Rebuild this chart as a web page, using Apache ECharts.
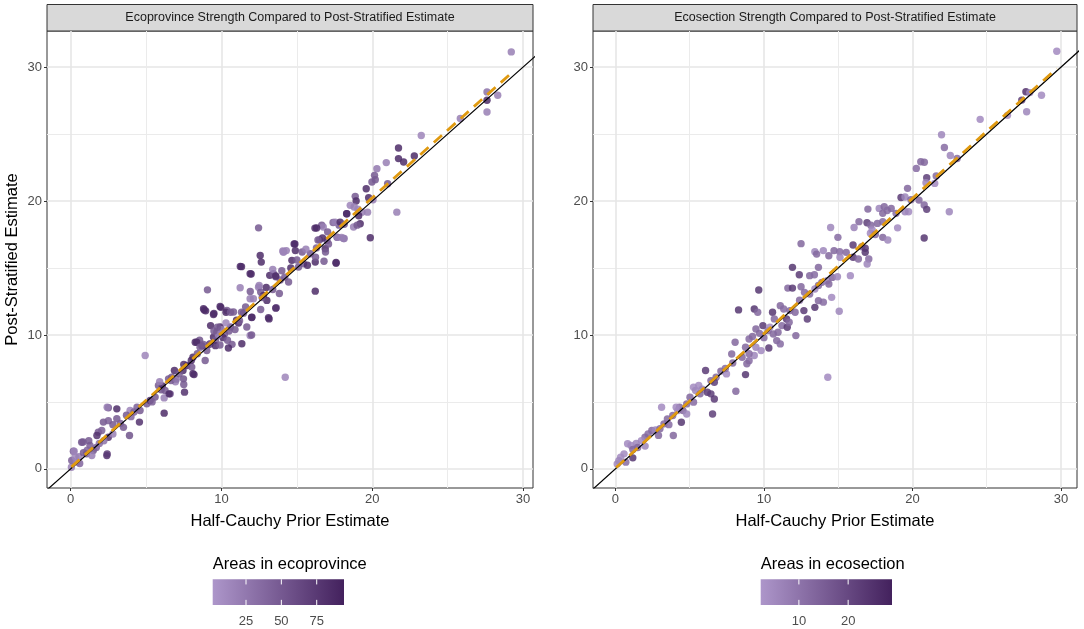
<!DOCTYPE html>
<html>
<head>
<meta charset="utf-8">
<script src="https://cdn.jsdelivr.net/npm/echarts@6/dist/echarts.min.js"></script>
<style>
  html, body { margin: 0; padding: 0; background: #fff; }
  #chart { width: 1084px; height: 629px; }
</style>
</head>
<body>
<div id="chart"></div>
<script>
// [half-cauchy prior estimate, post-stratified estimate, areas]
var ecoprovincePoints = [
  [0.05,0.12,20],[0.07,0.62,45],[0.18,1.32,50],[0.4,0.5,18],[0.3,0.9,15],[0.55,0.9,20],[0.73,1.99,55],[0.85,1.2,50],
  [1.28,1.74,45],[1.1,1.4,40],[1.5,1.37,55],[1.7,1.6,45],[2.4,0.99,80],[1.83,2.74,50],[2.06,2.86,45],[2.5,2.36,80],
  [2.2,2.1,30],[2.8,2.6,20],[3.9,2.49,55],[2.17,3.49,50],[2.5,3.6,45],[2.8,3.3,50],[3.06,3.74,50],[3.3,3.4,45],
  [3.5,3.1,50],[2.5,4.56,55],[3.06,4.48,85],[3.94,4.36,15],[4.2,4.25,45],[4.6,4.36,50],[4.56,3.49,80],[4.0,3.9,40],
  [5.05,4.86,50],[5.27,5.1,80],[5.6,5.36,50],[5.4,5.0,45],[4.94,8.47,15],[5.82,6.23,50],[6.0,5.9,55],[6.6,5.6,50],
  [6.2,5.3,20],[6.2,4.16,85],[6.49,6.72,50],[6.7,6.85,50],[6.95,6.5,20],[7.48,6.72,55],[7.5,6.3,50],[7.55,5.73,80],
  [7.7,7.72,85],[7.5,7.8,80],[8.03,7.6,50],[8.11,7.1,85],[8.11,8.34,85],[8.92,8.09,50],[9.03,8.84,50],[8.26,9.46,85],
  [8.7,9.2,85],[8.55,9.6,55],[9.47,9.84,85],[9.2,9.3,80],[7.45,7.34,85],[6.88,7.34,85],[8.18,7.04,85],[6.65,6.6,50],
  [7.0,6.7,30],[6.08,6.2,85],[6.26,5.85,50],[6.53,5.6,85],[14.23,6.84,15],[2.42,4.6,20],[1.74,2.49,80],[2.42,1.12,75],
  [0.82,2.0,50],[0.23,1.32,15],[1.05,1.12,50],[0.6,0.4,40],[1.4,1.0,20],[1.9,1.9,35],
  [1.2,2.1,50],[3.7,4.0,50],[4.4,4.6,45],[5.9,6.5,20],[7.2,7.1,50],[8.4,8.6,50],[8.0,8.1,85],[9.6,9.6,50],
  [16.2,17.98,85],[16.65,18.2,50],[17.4,18.4,45],[17.8,18.2,50],[18.3,19.05,85],[17.66,17.3,50],[18.1,17.2,45],
  [17.0,17.06,50],[16.5,17.1,45],[14.82,16.8,85],[14.9,16.3,85],[14.12,16.2,15],[14.3,16.3,20],[15.35,16.2,50],
  [15.9,16.07,50],[16.3,16.5,45],[16.88,16.44,85],[17.1,16.8,50],[12.57,15.94,85],[12.64,15.44,85],[14.67,15.57,85],
  [15.44,15.32,50],[15.7,15.2,85],[16.22,15.44,85],[17.6,15.42,85],[15.11,15.07,50],[11.25,15.12,85],[13.2,14.45,85],
  [13.6,14.35,50],[13.45,14.57,50],[14.2,14.32,50],[14.45,13.95,50],[13.9,14.1,45],[11.9,14.57,85],[16.22,13.27,85],
  [9.07,13.37,50],[11.24,13.52,20],[11.91,13.25,50],[12.46,13.57,20],[12.6,13.2,50],[12.79,12.95,85],[12.12,12.7,20],
  [13.01,12.58,85],[13.63,12.03,50],[8.81,11.96,85],[8.95,11.8,85],[9.91,12.13,85],[10.36,11.83,50],[10.8,11.71,50],
  [11.46,11.63,50],[9.47,11.53,85],[12.02,11.33,85],[13.12,11.28,85],[11.68,10.59,50],[11.13,10.89,85],[11.0,11.1,85],
  [9.91,10.59,85],[10.2,10.08,50],[10.5,10.3,50],[10.6,10.6,50],[9.69,10.2,50],[10.1,9.8,85],[10.4,9.6,50],
  [11.9,9.96,20],[8.36,9.46,85],[8.58,9.09,50],[8.8,9.3,50],[9.25,9.34,50],[9.6,9.2,85],[9.9,9.25,50],[10.7,9.3,50],
  [11.35,9.34,85],[10.46,9.03,85],[12.0,10.0,50],[10.0,10.4,20],[10.3,10.9,15],[9.8,10.0,20],
  [13.4,14.9,20],[13.6,14.4,85],[12.5,13.7,20],[12.97,13.55,85],[13.4,13.4,50],[13.84,13.1,50],[12.7,12.8,50],
  [11.9,12.7,20],[9.96,12.06,85],[8.86,11.87,85],[9.5,11.6,85],[10.3,11.7,85],[10.6,11.7,50],[11.33,11.7,50],
  [12.0,11.3,85],[13.16,11.2,85],[13.6,12.0,85],[12.6,11.9,50],[11.2,11.07,50],[9.28,10.7,85],[9.5,10.3,50],[9.73,10.57,50],
  [14.0,14.8,50],[15.0,15.6,50],[15.6,16.4,20],[14.6,15.0,85],[10.9,10.4,50],[11.6,12.1,50],
  [29.22,31.14,20],[27.61,28.15,30],[27.61,27.53,85],[28.32,27.9,20],[27.61,26.65,20],[25.84,26.16,20],[23.25,24.9,15],
  [21.74,23.96,85],[21.74,23.17,85],[22.08,22.92,85],[22.79,23.37,85],[20.93,22.87,20],[20.31,22.42,25],[20.15,21.92,50],
  [20.2,21.6,50],[19.98,21.42,50],[21.02,21.3,50],[19.6,20.92,85],[18.87,20.35,50],[18.93,20.0,85],[19.76,20.25,85],
  [20.05,20.1,20],[21.63,19.17,20],[18.54,19.68,15],[18.8,19.56,20],[19.05,19.4,15],[19.32,19.17,20],[18.31,19.05,85],
  [19.69,19.17,20],[19.1,18.9,85],[19.2,18.31,85],[18.76,18.06,20],[19.0,18.2,50],[17.54,18.43,20],[17.87,18.43,85],
  [18.14,18.26,50],[16.75,18.06,20],[16.31,17.99,85],[19.87,17.26,85],[17.04,17.7,50],[17.7,17.29,20],[17.96,17.29,20],
  [18.14,17.2,20],[16.7,17.24,85],[16.4,17.1,50],[14.87,16.8,85],[14.07,16.27,20],[12.46,18.0,50],
  [16.24,15.8,50],[16.8,15.5,50],[16.9,16.2,50],[17.6,15.35,85],[11.33,15.1,85],[11.97,14.55,85],[14.1,16.2,15]
];

var ecosectionPoints = [
  [29.72,31.19,5],[27.64,28.16,25],[27.36,27.54,22],[27.9,28.1,6],[28.69,27.9,5],[27.69,26.67,6],[26.4,26.4,5],
  [24.56,26.1,5],[21.96,24.95,6],[22.15,24.0,12],[22.55,23.4,6],[23.01,23.18,12],[20.56,22.94,13],[20.8,22.9,13],
  [20.26,22.44,12],[20.96,21.74,22],[21.6,21.87,12],[20.91,21.37,6],[21.5,21.32,5],[19.67,20.95,13],[19.23,20.27,23],
  [19.5,20.3,6],[19.9,20.1,13],[20.44,20.07,13],[20.79,19.7,13],[20.96,19.38,22],[22.48,19.2,6],[19.74,19.2,5],
  [19.5,19.2,6],[17.0,19.4,13],[17.76,19.45,6],[18.1,19.58,13],[18.3,19.3,12],[18.57,19.45,13],[18.0,19.08,13],
  [18.9,19.08,12],[16.4,18.46,13],[16.94,18.38,22],[17.2,18.2,13],[17.64,18.33,13],[18.0,18.46,12],[19.0,18.0,5],
  [14.49,18.03,6],[16.07,18.03,7],[17.29,17.84,5],[17.17,17.6,5],[17.5,17.5,12],[18.0,17.29,13],[18.34,17.09,6],
  [14.98,17.29,12],[20.79,17.24,24],[16.0,16.72,23],[16.59,16.59,13],[16.82,16.47,23],[12.5,16.82,13],[13.43,16.22,6],
  [14.0,16.3,6],[14.72,16.3,13],[15.1,16.22,12],
  [13.55,16.04,13],[14.37,15.92,13],[15.12,15.8,6],[15.54,16.17,13],[16.0,15.8,23],[16.36,15.67,13],[16.82,16.17,24],
  [17.06,15.67,12],[16.95,15.3,6],[11.92,15.05,24],[12.38,14.5,23],[13.08,14.43,13],[13.4,14.5,12],[13.67,15.05,13],
  [13.9,13.93,13],[14.25,14.05,6],[14.6,14.3,13],[14.95,14.35,6],[15.82,14.43,5],[11.61,13.5,13],[11.92,13.5,23],
  [12.5,13.6,13],[12.73,13.18,12],[13.08,13.05,13],[13.43,13.43,6],[13.67,13.7,13],[14.37,13.8,13],[14.56,12.81,5],
  [9.65,13.36,24],[11.1,12.19,13],[11.33,11.94,12],[10.58,11.69,24],[11.75,11.82,13],[12.1,11.69,13],[13.43,12.06,24],
  [12.69,11.82,23],[12.92,11.19,22],[13.67,12.56,13],[14.0,12.45,12],[15.07,11.77,6],[8.29,11.87,24],[9.35,11.94,24],
  [9.58,11.69,13],[11.52,11.19,23],[9.93,10.7,23],[9.46,10.45,13],[9.7,10.12,13],[10.28,10.32,12],[10.4,10.57,5],
  [10.63,10.07,13],[10.95,10.2,13],[11.21,10.7,12],[11.57,10.57,23],[11.7,10.95,13],[12.15,9.95,13],[10.86,9.58,13],
  [11.1,9.33,12],[10.33,9.03,23],[8.06,9.45,13],[9.0,9.7,12],[9.23,9.88,13],[8.76,9.08,13],[9.46,9.08,6],[9.81,8.83,5],
  [9.35,8.46,6],[9.0,8.6,12],[8.53,8.33,13],[7.83,8.58,13],[9.0,8.08,12],[8.85,7.85,13],[8.76,7.04,24],[6.07,7.34,23],
  [7.1,7.3,13],[6.78,6.84,13],[7.48,7.09,5],[8.11,5.8,13],[6.43,6.59,13],[6.66,6.47,22],[5.26,6.1,5],[5.4,5.85,6],
  [5.61,6.22,5],[5.85,5.95,6],[6.19,5.72,23],[6.43,5.6,22],[6.66,5.22,23],[6.54,4.1,22],[5.02,5.35,13],[5.26,4.98,12],
  [4.8,4.85,13],[4.32,4.6,13],[3.86,3.98,13],[4.2,4.35,6],[4.09,4.6,5],[4.55,4.35,13],[4.8,4.1,6],[3.11,4.6,5],
  [4.44,3.48,24],[3.5,3.73,13],[3.27,3.36,13],[3.9,2.49,13],[2.45,2.86,13],[2.2,2.6,12],[1.99,2.36,13],[1.75,2.11,5],
  [1.4,1.9,6],[1.05,1.74,5],[0.82,1.87,5],[1.17,0.82,24],[0.58,1.12,5],[0.35,0.87,5],[0.12,0.37,5],[0.23,0.6,6],
  [0.7,0.5,12],[1.17,1.45,13],[1.5,1.6,13],[2.7,2.9,6],[3.0,3.0,13],[14.3,6.84,5],
  [2.0,1.7,6],[2.9,2.5,13],[3.6,3.3,12],[5.7,5.6,13],[7.4,7.5,12],[7.9,7.9,13],[10.0,9.8,12],[10.7,11.2,13],[12.4,12.6,13]
];

var majorTicks = [0, 10, 20, 30];
var minorTicks = [5, 15, 25];
var identityLine = [[-5, -5], [40, 40]];
var ecoprovinceFit = [[0.05, 0.15], [10, 10.15], [20, 20.25], [29.22, 29.55]];
var ecosectionFit = [[0.05, 0.1], [10, 10.1], [20, 20.2], [29.72, 29.9]];
var ecoprovinceRange = [1.45, 94.3];
var ecosectionRange = [2.25, 28.9];
var ecoprovinceLegendTicks = [25, 50, 75];
var ecosectionLegendTicks = [10, 20];

var FONT = '"Liberation Sans", Arial, sans-serif';
var LOW = '#ad96ca', HIGH = '#43215d';

var panels = [
  { left: 47, width: 486, xmin: -1.57, xmax: 30.66, title: 'Ecoprovince Strength Compared to Post-Stratified Estimate' },
  { left: 593, width: 484, xmin: -1.51, xmax: 31.08, title: 'Ecosection Strength Compared to Post-Stratified Estimate' }
];
var TOP = 31, HEIGHT = 457, YMIN = -1.43, YMAX = 32.7;

function majorAxis(dim, gi, min, max) {
  return {
    type: 'value', gridIndex: gi, min: min, max: max,
    position: dim === 'x' ? 'bottom' : 'left',
    axisLine: { show: false, onZero: false },
    axisTick: { show: true, length: 3, customValues: majorTicks, lineStyle: { color: '#333', width: 1 } },
    axisLabel: { customValues: majorTicks, color: '#4d4d4d', fontSize: 13, fontFamily: FONT, margin: 5 },
    splitLine: { show: true, lineStyle: { color: '#e6e6e6', width: 1.6 } }
  };
}
function minorAxis(dim, gi, min, max) {
  return {
    type: 'value', gridIndex: gi, min: min, max: max,
    position: dim === 'x' ? 'top' : 'right',
    axisLine: { show: false, onZero: false },
    axisTick: { show: false, customValues: minorTicks },
    axisLabel: { show: false, customValues: minorTicks },
    splitLine: { show: true, lineStyle: { color: '#ebebeb', width: 1 } }
  };
}

var grids = [], xAxes = [], yAxes = [], graphics = [];
panels.forEach(function (p, i) {
  grids.push({ left: p.left, top: TOP, width: p.width, height: HEIGHT, show: true,
    borderColor: '#333', borderWidth: 1, backgroundColor: 'transparent', containLabel: false });
  xAxes.push(majorAxis('x', i, p.xmin, p.xmax), minorAxis('x', i, p.xmin, p.xmax));
  yAxes.push(majorAxis('y', i, YMIN, YMAX), minorAxis('y', i, YMIN, YMAX));
  graphics.push({ type: 'rect', shape: { x: p.left, y: 4.5, width: p.width, height: 26.5 },
    style: { fill: '#d9d9d9', stroke: '#333', lineWidth: 1 } });
  graphics.push({ type: 'text', x: p.left + p.width / 2, y: 18,
    style: { text: p.title, fontSize: 12.5, fontFamily: FONT, fill: '#1a1a1a', align: 'center', verticalAlign: 'middle' } });
  graphics.push({ type: 'text', x: p.left + p.width / 2, y: 521,
    style: { text: 'Half-Cauchy Prior Estimate', fontSize: 16.5, fontFamily: FONT, fill: '#000', align: 'center', verticalAlign: 'middle' } });
});
graphics.push({ type: 'text', x: 12, y: TOP + HEIGHT / 2, rotation: Math.PI / 2,
  style: { text: 'Post-Stratified Estimate', fontSize: 16.5, fontFamily: FONT, fill: '#000', align: 'center', verticalAlign: 'middle' } });

function colorbar(x0, title, range, ticks) {
  var w = 131.3, y0 = 579.3, h = 25.7;
  graphics.push({ type: 'text', x: x0, y: 564,
    style: { text: title, fontSize: 16.5, fontFamily: FONT, fill: '#000', align: 'left', verticalAlign: 'middle' } });
  graphics.push({ type: 'rect', shape: { x: x0, y: y0, width: w, height: h },
    style: { fill: { type: 'linear', x: 0, y: 0, x2: 1, y2: 0, colorStops: [
      { offset: 0, color: LOW }, { offset: 1, color: HIGH } ] } } });
  ticks.forEach(function (t) {
    var tx = x0 + (t - range[0]) / (range[1] - range[0]) * w;
    graphics.push({ type: 'line', shape: { x1: tx, y1: y0, x2: tx, y2: y0 + h / 5 }, style: { stroke: '#fff', lineWidth: 1 } });
    graphics.push({ type: 'line', shape: { x1: tx, y1: y0 + h - h / 5, x2: tx, y2: y0 + h }, style: { stroke: '#fff', lineWidth: 1 } });
    graphics.push({ type: 'text', x: tx, y: 621,
      style: { text: String(t), fontSize: 13, fontFamily: FONT, fill: '#4d4d4d', align: 'center', verticalAlign: 'middle' } });
  });
}
colorbar(212.7, 'Areas in ecoprovince', ecoprovinceRange, ecoprovinceLegendTicks);
colorbar(760.7, 'Areas in ecosection', ecosectionRange, ecosectionLegendTicks);

function panelSeries(i, points, fit) {
  return [
    { type: 'scatter', xAxisIndex: i * 2, yAxisIndex: i * 2, data: points, symbolSize: 7.4,
      itemStyle: { opacity: 0.85 }, z: 2, silent: true },
    { type: 'line', xAxisIndex: i * 2, yAxisIndex: i * 2, data: identityLine, symbol: 'none', clip: true,
      lineStyle: { color: '#000', width: 1.2 }, z: 3, silent: true },
    { type: 'line', xAxisIndex: i * 2, yAxisIndex: i * 2, data: fit, symbol: 'none', smooth: true, clip: true,
      lineStyle: { color: '#e09a10', width: 2.8, type: [11, 7] }, z: 4, silent: true }
  ];
}

var chart = echarts.init(document.getElementById('chart'), null, { renderer: 'canvas' });
chart.setOption({
  animation: false,
  backgroundColor: '#fff',
  grid: grids,
  xAxis: xAxes,
  yAxis: yAxes,
  visualMap: [
    { type: 'continuous', show: false, seriesIndex: 0, dimension: 2, min: ecoprovinceRange[0], max: ecoprovinceRange[1],
      inRange: { color: [LOW, HIGH] } },
    { type: 'continuous', show: false, seriesIndex: 3, dimension: 2, min: ecosectionRange[0], max: ecosectionRange[1],
      inRange: { color: [LOW, HIGH] } }
  ],
  series: panelSeries(0, ecoprovincePoints, ecoprovinceFit).concat(panelSeries(1, ecosectionPoints, ecosectionFit)),
  graphic: graphics
});
</script>
</body>
</html>
